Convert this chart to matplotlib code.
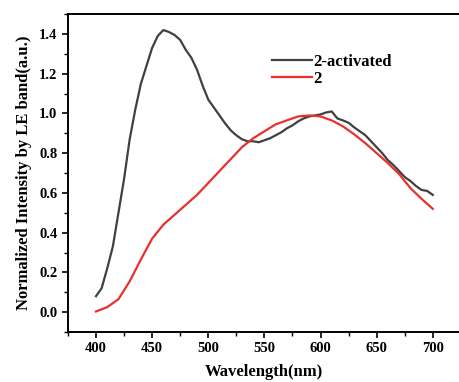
import matplotlib.pyplot as plt
from matplotlib.ticker import MultipleLocator

plt.rcParams['font.family'] = ['Liberation Serif', 'DejaVu Serif']
plt.rcParams['font.weight'] = 'bold'

# 2-activated, sampled every 5 nm
wl_act = list(range(400, 705, 5))
act = [0.08, 0.12, 0.22, 0.33, 0.50, 0.67, 0.87, 1.02, 1.15, 1.24,
       1.33, 1.39, 1.42, 1.41, 1.395, 1.37, 1.32, 1.28, 1.22, 1.14,
       1.07, 1.03, 0.99, 0.95, 0.915, 0.89, 0.87, 0.86, 0.86, 0.855,
       0.865, 0.875, 0.89, 0.905, 0.925, 0.94, 0.96, 0.975, 0.985, 0.99,
       0.995, 1.005, 1.01, 0.975, 0.965, 0.953, 0.93, 0.91, 0.89, 0.86,
       0.83, 0.80, 0.765, 0.74, 0.71, 0.68, 0.66, 0.635, 0.615, 0.61,
       0.59]

# 2, sampled every 10 nm
wl_two = list(range(400, 710, 10))
two = [0.003, 0.025, 0.065, 0.155, 0.265, 0.37, 0.44, 0.49, 0.54, 0.59,
       0.65, 0.71, 0.77, 0.83, 0.875, 0.91, 0.945, 0.965, 0.985, 0.99,
       0.985, 0.965, 0.935, 0.895, 0.85, 0.80, 0.75, 0.695, 0.625, 0.57,
       0.52]

fig = plt.figure(figsize=(4.59, 3.82), dpi=100)
ax = fig.add_axes([0.148, 0.131, 0.856, 0.832])

ax.plot(wl_act, act, color='#404040', lw=1.6, label='2-activated')
ax.plot(wl_two, two, color='#e8302e', lw=1.6, label='2')

ax.set_xlim(375, 725)
ax.set_ylim(-0.1, 1.5)
ax.set_xticks([400, 450, 500, 550, 600, 650, 700])
ax.xaxis.set_minor_locator(MultipleLocator(25))
ax.yaxis.set_major_locator(MultipleLocator(0.2))
ax.yaxis.set_minor_locator(MultipleLocator(0.1))
ax.yaxis.set_major_formatter(plt.FormatStrFormatter('%.1f'))
ax.tick_params(which='major', direction='out', length=4, width=1.2, labelsize=10.5)
ax.tick_params(which='minor', direction='out', length=3, width=1.0)
for s in ax.spines.values():
    s.set_linewidth(1.4)

ax.set_xlabel('Wavelength(nm)', fontsize=12, fontweight='bold', labelpad=6)
ax.set_ylabel('Normalized Intensity by LE band(a.u.)', fontsize=12, fontweight='bold', labelpad=5)

ax.legend(loc='upper left', bbox_to_anchor=(0.519, 0.875), frameon=False,
          borderaxespad=0, borderpad=0,
          fontsize=12, handlelength=2.4, handletextpad=0.1, labelspacing=0.05)

fig.savefig('out.png', dpi=100)
